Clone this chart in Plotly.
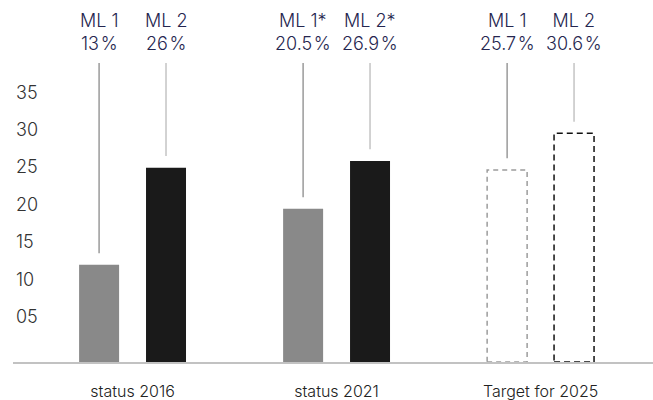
import plotly.graph_objects as go

# data
groups = ['status 2016', 'status 2021', 'Target for 2025']
ml1_names = ['ML 1', 'ML 1*', 'ML 1']
ml2_names = ['ML 2', 'ML 2*', 'ML 2']
ml1_values = [13, 20.5, 25.7]
ml2_values = [26, 26.9, 30.6]
ytick_vals = [5, 10, 15, 20, 25, 30, 35]
ytick_text = ['05', '10', '15', '20', '25', '30', '35']

FONT = 'Inter'
NAVY = '#25264f'
BAR_W = 0.196
SHIFT = 0.164
Y_TOP = 40
LINE_GAP = 1.55

ml1_fill = ['#898989', '#898989', 'rgba(0,0,0,0)']
ml2_fill = ['#1a1a1a', '#1a1a1a', 'rgba(0,0,0,0)']

fig = go.Figure()

fig.add_trace(go.Bar(
    x=groups, y=ml1_values, name='ML 1',
    width=BAR_W, offset=-SHIFT - BAR_W / 2,
    marker=dict(color=ml1_fill, line=dict(width=0)),
    hovertemplate='%{x}<br>ML 1: %{y}%<extra></extra>'
))
fig.add_trace(go.Bar(
    x=groups, y=ml2_values, name='ML 2',
    width=BAR_W, offset=SHIFT - BAR_W / 2,
    marker=dict(color=ml2_fill, line=dict(width=0)),
    hovertemplate='%{x}<br>ML 2: %{y}%<extra></extra>'
))

shapes = []
annotations = []
series = [
    (ml1_names, ml1_values, -SHIFT, '#9a9a9a', '#9c9c9c', '5px,4px'),
    (ml2_names, ml2_values, SHIFT, '#c4c4c4', '#111111', '6px,4px'),
]
for names, values, dx, lead_col, dash_col, dash in series:
    for i, (nm, v) in enumerate(zip(names, values)):
        cx = i + dx
        # leader line from the top of the plot down to the bar
        shapes.append(dict(type='line', xref='x', yref='y',
                           x0=cx, x1=cx, y0=v + LINE_GAP, y1=Y_TOP,
                           line=dict(color=lead_col, width=1.5)))
        annotations.append(dict(
            x=cx, y=1, xref='x', yref='paper', yanchor='bottom', yshift=7,
            text=f'{nm}<br>{v:g}\u200a%', showarrow=False, align='center',
            font=dict(family=FONT, size=18, color=NAVY, weight=300)
        ))
    # target bars are outlined with dashes
    i = len(values) - 1
    shapes.append(dict(type='rect', xref='x', yref='y',
                       x0=i + dx - BAR_W / 2, x1=i + dx + BAR_W / 2,
                       y0=0, y1=values[i],
                       line=dict(color=dash_col, width=1.5, dash=dash)))

fig.update_layout(
    width=653, height=400,
    margin=dict(l=13, r=0, t=63, b=38),
    paper_bgcolor='white', plot_bgcolor='white',
    showlegend=False,
    shapes=shapes,
    annotations=annotations,
    font=dict(family=FONT, color='#333333'),
    xaxis=dict(
        range=[-0.586, 2.551], showgrid=False, zeroline=False,
        showline=True, linecolor='#c2c2c2', linewidth=2, automargin=False,
        ticks='outside', ticklen=14, tickcolor='rgba(0,0,0,0)',
        tickfont=dict(family=FONT, size=16, color='#222222', weight=300)
    ),
    yaxis=dict(
        range=[0, Y_TOP], showgrid=False, zeroline=False, showline=False,
        automargin=False,
        tickvals=ytick_vals, ticktext=ytick_text, ticks='',
        ticklabelposition='inside', ticklabelshift=-8,
        tickfont=dict(family=FONT, size=18, color='#333333', weight=300)
    ),
)

fig.write_html('out.html', config={'displayModeBar': False},
               post_script="document.body.style.margin='0';")
